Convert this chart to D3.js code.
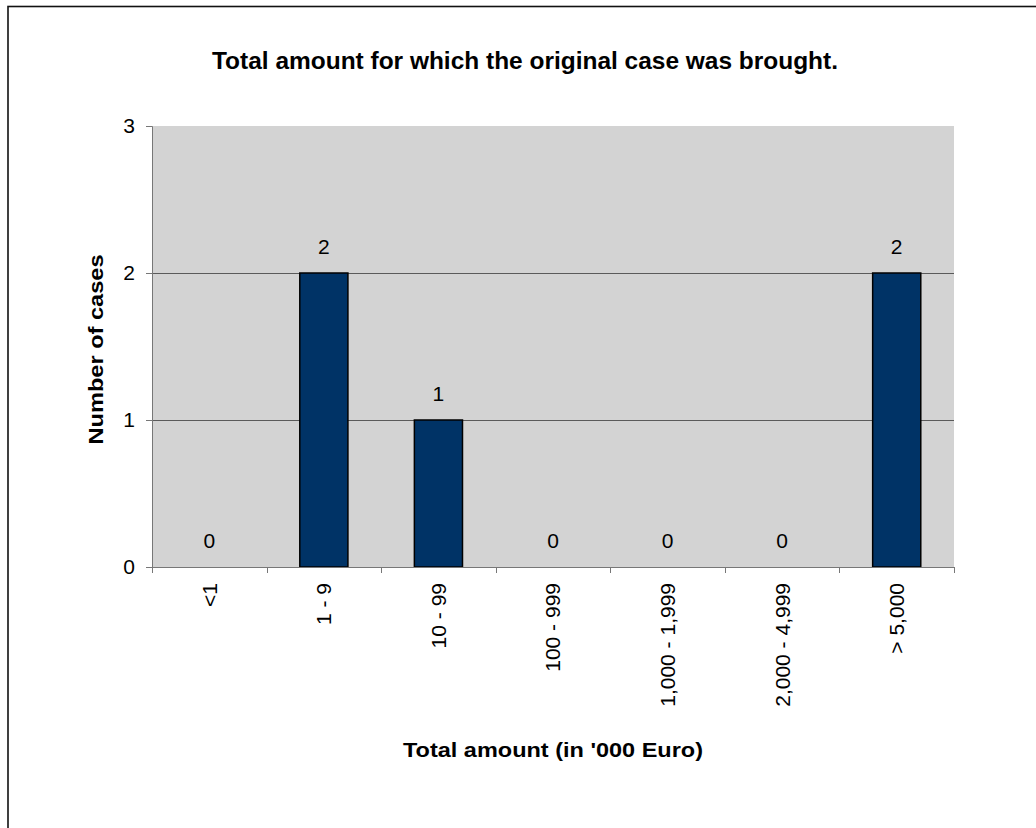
<!DOCTYPE html>
<html>
<head>
<meta charset="utf-8">
<script src="https://cdn.jsdelivr.net/npm/d3@7"></script>
<style>
  html, body { margin: 0; padding: 0; background: #fff; }
  svg { display: block; font-family: "Liberation Sans", Arial, sans-serif; }
</style>
</head>
<body>
<svg id="chart" width="1036" height="828"></svg>
<script>
// Cases by total amount claimed (in '000 Euro)
const categories = ["<1", "1 - 9", "10 - 99", "100 - 999", "1,000 - 1,999", "2,000 - 4,999", "> 5,000"];
const caseCounts = [0, 2, 1, 0, 0, 0, 2];
const yTicks = [0, 1, 2, 3];

const titleText = "Total amount for which the original case was brought.";
const xTitle = "Total amount (in '000 Euro)";
const yTitle = "Number of cases";

const svg = d3.select("#chart");

// Outer frame
svg.append("rect")
  .attr("x", 8).attr("y", 6.5)
  .attr("width", 1040).attr("height", 840)
  .attr("fill", "#fff")
  .attr("stroke", "#111").attr("stroke-width", 1.6);

const plot = { left: 152, right: 954, top: 126, bottom: 567 };

const x = d3.scaleBand()
  .domain(categories)
  .range([plot.left, plot.right])
  .paddingInner(0.58).paddingOuter(0.29);

const xOuter = d3.scaleBand().domain(categories).range([plot.left, plot.right]);

const y = d3.scaleLinear().domain([0, 3]).range([plot.bottom, plot.top]);

// Plot area background
svg.append("rect")
  .attr("x", plot.left).attr("y", plot.top)
  .attr("width", plot.right - plot.left).attr("height", plot.bottom - plot.top)
  .attr("fill", "#d3d3d3");

// Horizontal gridlines
svg.append("g")
  .selectAll("line")
  .data(yTicks.filter(d => d > 0 && d < 3))
  .join("line")
  .attr("x1", plot.left).attr("x2", plot.right)
  .attr("y1", d => Math.round(y(d)) + 0.5).attr("y2", d => Math.round(y(d)) + 0.5)
  .attr("stroke", "#5a5a5a").attr("stroke-width", 1);

// Bars
svg.append("g")
  .selectAll("rect")
  .data(categories.map((c, i) => ({ c, v: caseCounts[i] })).filter(d => d.v > 0))
  .join("rect")
  .attr("x", d => x(d.c))
  .attr("y", d => y(d.v))
  .attr("width", x.bandwidth())
  .attr("height", d => y(0) - y(d.v))
  .attr("fill", "#003366")
  .attr("stroke", "#000").attr("stroke-width", 1.5);

// Value labels
svg.append("g")
  .selectAll("text")
  .data(categories.map((c, i) => ({ c, v: caseCounts[i] })))
  .join("text")
  .attr("x", d => x(d.c) + x.bandwidth() / 2)
  .attr("y", d => y(d.v) - 19)
  .attr("text-anchor", "middle")
  .attr("font-size", 21)
  .attr("fill", "#000")
  .text(d => d.v);

// Y axis
const yAxis = svg.append("g")
  .attr("transform", `translate(${plot.left},0)`)
  .call(d3.axisLeft(y).tickValues(yTicks).tickFormat(d3.format("d")).tickSize(6).tickPadding(11));
yAxis.selectAll("path, line").attr("stroke", "#777");
yAxis.selectAll("text").attr("font-size", 21).attr("fill", "#000")
  .attr("font-family", "Liberation Sans, Arial, sans-serif");

// X axis (ticks at category boundaries)
const xAxisG = svg.append("g").attr("transform", `translate(0,${plot.bottom})`);
xAxisG.append("line")
  .attr("x1", plot.left).attr("x2", plot.right)
  .attr("y1", 0.5).attr("y2", 0.5)
  .attr("stroke", "#777");
const bounds = categories.map(c => xOuter(c)).concat([plot.right]);
xAxisG.selectAll("line.tick")
  .data(bounds)
  .join("line")
  .attr("class", "tick")
  .attr("x1", d => Math.round(d) + 0.5).attr("x2", d => Math.round(d) + 0.5)
  .attr("y1", 0).attr("y2", 6)
  .attr("stroke", "#777");
xAxisG.selectAll("text")
  .data(categories)
  .join("text")
  .attr("transform", d => `translate(${xOuter(d) + xOuter.bandwidth() / 2},16) rotate(-90)`)
  .attr("text-anchor", "end")
  .attr("dy", "0.35em")
  .attr("font-size", 21)
  .attr("fill", "#000")
  .text(d => d);

// Titles
svg.append("text")
  .attr("x", 525).attr("y", 69)
  .attr("text-anchor", "middle")
  .attr("font-size", 24).attr("font-weight", "bold")
  .attr("fill", "#000")
  .attr("textLength", 626).attr("lengthAdjust", "spacingAndGlyphs")
  .text(titleText);

svg.append("text")
  .attr("x", 553).attr("y", 757)
  .attr("text-anchor", "middle")
  .attr("font-size", 21).attr("font-weight", "bold")
  .attr("fill", "#000")
  .attr("textLength", 300).attr("lengthAdjust", "spacingAndGlyphs")
  .text(xTitle);

svg.append("text")
  .attr("transform", `translate(103,${(plot.top + plot.bottom) / 2 + 3}) rotate(-90)`)
  .attr("text-anchor", "middle")
  .attr("font-size", 21).attr("font-weight", "bold")
  .attr("fill", "#000")
  .attr("textLength", 190).attr("lengthAdjust", "spacingAndGlyphs")
  .text(yTitle);
</script>
</body>
</html>
